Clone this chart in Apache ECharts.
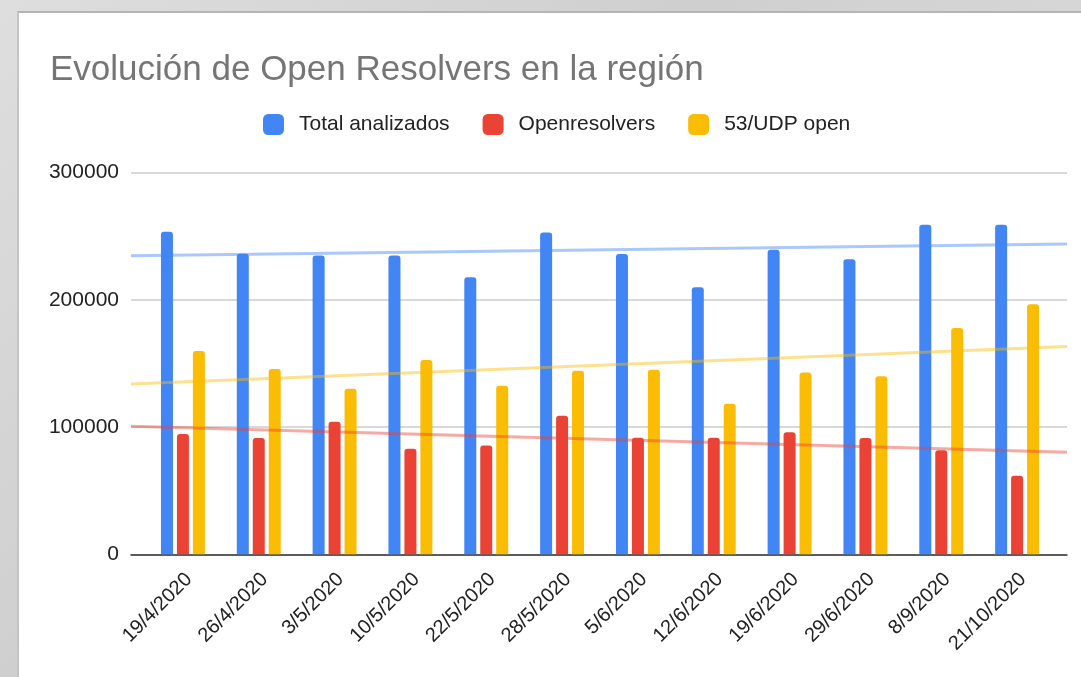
<!DOCTYPE html>
<html>
<head>
<meta charset="UTF-8"/>
<title>Evolución de Open Resolvers en la región</title>
<script src="https://cdn.jsdelivr.net/npm/echarts@6/dist/echarts.min.js"></script>
<style>
  html, body { margin: 0; padding: 0; }
  body {
    width: 1081px; height: 677px; overflow: hidden; position: relative;
    background: linear-gradient(135deg, #dedede 0%, #cfcfcf 40%, #d9d9d9 70%, #cbcbcb 100%);
  }
  #card {
    position: absolute; left: 17px; top: 11px; right: 0; bottom: 0;
    background: #fff; border-top: 2px solid #b5b5b5; border-left: 2px solid #c4c4c4;
  }
  #chart { position: absolute; left: 0; top: 0; width: 1081px; height: 677px; }
</style>
</head>
<body>
<div id="card"></div>
<div id="chart"></div>
<script type="text/javascript">
// fechas de los relevamientos
var fechas = ['19/4/2020', '26/4/2020', '3/5/2020', '10/5/2020', '22/5/2020', '28/5/2020',
              '5/6/2020', '12/6/2020', '19/6/2020', '29/6/2020', '8/9/2020', '21/10/2020'];
var totalAnalizados = [253600, 236300, 235000, 235000, 217800, 253000, 236000, 210000, 239500, 232000, 259000, 259000];
var openResolvers   = [94600, 91500, 104300, 83000, 85500, 109000, 91700, 91700, 96000, 91500, 81800, 61700];
var udpOpen         = [159800, 145600, 130200, 152700, 132500, 144300, 145000, 118400, 143000, 139900, 178000, 196600];
// lineas de tendencia (inicio y fin del area del grafico)
var tendTotal = [234700, 243900];
var tendOpen  = [100600, 80200];
var tendUdp   = [133900, 163400];
var ticksY = [0, 100000, 200000, 300000];

var azul = '#4285F4', rojo = '#EA4335', amarillo = '#FBBC04';
var fuente = '"Liberation Sans", Arial, sans-serif';

var myChart = echarts.init(document.getElementById('chart'));

function barra(nombre, datos, color) {
  return {
    name: nombre, type: 'bar', xAxisIndex: 1, yAxisIndex: 1,
    data: datos, barWidth: 12, barGap: '33%',
    itemStyle: { color: color, borderRadius: [3, 3, 0, 0] },
    emphasis: { disabled: true }
  };
}
function tendencia(nombre, datos, color) {
  return {
    name: nombre, type: 'line', xAxisIndex: 0, yAxisIndex: 0, z: 5,
    data: [[0, datos[0]], [1, datos[1]]],
    symbol: 'none', silent: true,
    lineStyle: { color: color, width: 3, opacity: 0.45 }
  };
}

var option = {
  animation: false,
  textStyle: { fontFamily: fuente },
  title: {
    text: 'Evolución de Open Resolvers en la región',
    left: 45, top: 48,
    textStyle: { fontFamily: fuente, fontSize: 35, fontWeight: 'normal', color: '#757575' }
  },
  legend: {
    data: ['Total analizados', 'Openresolvers', '53/UDP open'],
    left: 258, top: 109,
    icon: 'roundRect', itemWidth: 21, itemHeight: 21, itemGap: 33,
    textStyle: { fontFamily: fuente, fontSize: 21, color: '#222', padding: [0, 0, 0, 10] }
  },
  grid: [
    { left: 131, right: 14, top: 172.7, bottom: 122.7 },
    { left: 145, right: 26, top: 172.7, bottom: 122.7 },
    { left: 151, right: 20, top: 172.7, bottom: 122.7 }
  ],
  xAxis: [
    { gridIndex: 0, type: 'value', min: 0, max: 1,
      axisLine: { show: true, onZero: false, lineStyle: { color: '#333', width: 1.5 } },
      axisTick: { show: false }, axisLabel: { show: false }, splitLine: { show: false } },
    { gridIndex: 1, type: 'category', data: fechas,
      axisLine: { show: false }, axisTick: { show: false }, axisLabel: { show: false } },
    { gridIndex: 2, type: 'category', data: fechas,
      axisLine: { show: false }, axisTick: { show: false },
      axisLabel: { rotate: 45, margin: 22, interval: 0, fontFamily: fuente, fontSize: 20, color: '#222' } }
  ],
  yAxis: [
    { gridIndex: 0, type: 'value', min: 0, max: 300000, interval: 100000,
      axisLine: { show: false }, axisTick: { show: false },
      axisLabel: { margin: 12, fontFamily: fuente, fontSize: 21, color: '#222',
        formatter: function (v) { return ticksY.indexOf(v) >= 0 ? String(v) : ''; } },
      splitLine: { lineStyle: { color: '#cccccc', width: 1.5 } } },
    { gridIndex: 1, type: 'value', min: 0, max: 300000, show: false },
    { gridIndex: 2, type: 'value', min: 0, max: 300000, show: false }
  ],
  series: [
    barra('Total analizados', totalAnalizados, azul),
    barra('Openresolvers', openResolvers, rojo),
    barra('53/UDP open', udpOpen, amarillo),
    tendencia('Tendencia total', tendTotal, azul),
    tendencia('Tendencia open', tendOpen, rojo),
    tendencia('Tendencia udp', tendUdp, amarillo)
  ]
};
myChart.setOption(option, true);
</script>
</body>
</html>
